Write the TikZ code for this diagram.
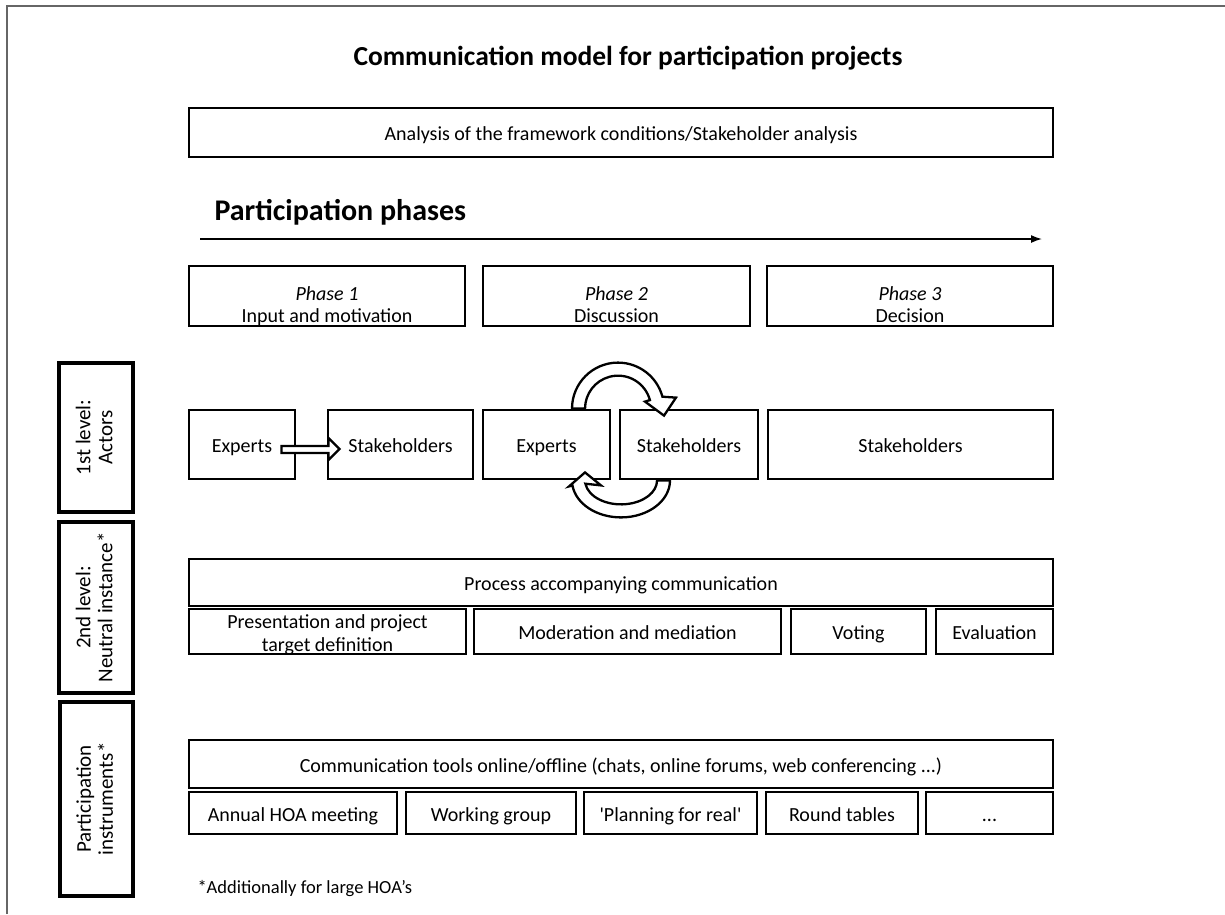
\documentclass[tikz,border=0pt]{standalone}
\usepackage{fontspec}
\setmainfont{Carlito}
\usetikzlibrary{arrows.meta}
\usetikzlibrary{calc}

\begin{document}
\begin{tikzpicture}[x=1pt,y=-1pt,
    plainbox/.style={draw,line width=2.8pt,fill=white,inner sep=0pt,
      font=\fontsize{20}{23}\selectfont,align=center,
      execute at begin node=\rule{0pt}{20pt},execute at end node=\rule[-4pt]{0pt}{4pt}},
    boxtext/.style={inner sep=0pt,font=\fontsize{20}{22}\selectfont,align=center},
    levelbox/.style={plainbox,line width=3.5pt,rotate=90,font=\fontsize{21}{22}\selectfont},
    hollowarrow/.style={draw,line width=2.3pt,fill=white,line join=miter},
    titletext/.style={font=\fontsize{27.5}{32}\selectfont\bfseries}]
    \useasboundingbox (0,0) rectangle (1225,914);
    \draw[black!60,line width=1.5pt] (7,914) -- (7,6) -- (1225,6);
    %
    \node[titletext] (title) at (628,58) {Communication model for participation projects};
    \node[plainbox,minimum width=864pt,minimum height=49pt] (ana) at (621,132.5)
      {Analysis of the framework conditions/Stakeholder analysis};
    \node[titletext,font=\fontsize{30}{34}\selectfont\bfseries,anchor=west] (phases) at (211,212) {Participation phases};
    \coordinate (arrS) at (200,239);
    \coordinate (arrE) at (1042,239);
    \draw[line width=1.5pt,-{Latex[length=11pt,width=8pt]}] (arrS) -- (arrE);
    %
    \node[plainbox,minimum width=276pt,minimum height=60pt] (ph1) at (327,296) {};
    \node[plainbox,minimum width=267pt,minimum height=60pt] (ph2) at (616.5,296) {};
    \node[plainbox,minimum width=286pt,minimum height=60pt] (ph3) at (910,296) {};
    \node[boxtext] (ph1t) at ($(ph1)+(0,11)$) {\strut\textit{Phase 1}\\\strut Input and motivation};
    \node[boxtext] (ph2t) at ($(ph2)+(0,11)$) {\strut\textit{Phase 2}\\\strut Discussion};
    \node[boxtext] (ph3t) at ($(ph3)+(0,11)$) {\strut\textit{Phase 3}\\\strut Decision};
    %
    \node[plainbox,minimum width=106pt,minimum height=69pt] (ex1) at (242,444.5) {Experts};
    \node[plainbox,minimum width=145pt,minimum height=69pt] (st1) at (400.5,444.5) {Stakeholders};
    \node[plainbox,minimum width=127pt,minimum height=69pt] (ex2) at (546.5,444.5) {Experts};
    \node[plainbox,minimum width=138pt,minimum height=69pt] (st2) at (689,444.5) {Stakeholders};
    \node[plainbox,minimum width=285pt,minimum height=69pt] (st3) at (910.5,444.5) {Stakeholders};
    %
    \draw[hollowarrow,shift={(ex1.east)}] (-15,1.5) -- (32,1.5) -- (32,-6.5) -- (43,4.5)
      -- (32,15.5) -- (32,8.5) -- (-15,8.5) -- cycle;
    \coordinate (topc) at ($(ex2.north east)!0.5!(st2.north west)$);
    \coordinate (botc) at ($(ex2.south east)!0.5!(st2.south west)$);
    \draw[hollowarrow,shift={(topc)}] (-43,0) arc[start angle=180,end angle=345,radius=46]
      -- (61,-11) -- (49,7) -- (30,-7) -- (34.9,-8.5)
      arc[start angle=345,end angle=180,radius=33] -- cycle;
    \draw[hollowarrow,shift={(botc)}] (55,0) arc[start angle=0,end angle=172,x radius=49,y radius=37]
      -- (-46,6) -- (-30,-8) -- (-14,5) -- (-29.6,3.3)
      arc[start angle=172,end angle=0,x radius=36,y radius=24] -- cycle;
    %
    \node[plainbox,minimum width=864pt,minimum height=47pt] (proc) at (621,582.5) {Process accompanying communication};
    \node[plainbox,minimum width=277pt,minimum height=45pt] (pres) at (327.5,631.5) {};
    \node[boxtext,font=\fontsize{20}{23}\selectfont] (prest) at ($(pres)+(0,3)$) {Presentation and project\\target definition};
    \node[plainbox,minimum width=307pt,minimum height=45pt] (mod) at (627.5,631.5) {Moderation and mediation};
    \node[plainbox,minimum width=135pt,minimum height=45pt] (vot) at (858.5,631.5) {Voting};
    \node[plainbox,minimum width=117pt,minimum height=45pt] (eva) at (994.5,631.5) {Evaluation};
    %
    \node[plainbox,minimum width=864pt,minimum height=48pt] (tools) at (621,764)
      {Communication tools online/offline (chats, online forums, web conferencing ...)};
    \node[plainbox,minimum width=208pt,minimum height=42pt] (ins1) at (293,813) {Annual HOA meeting};
    \node[plainbox,minimum width=170pt,minimum height=42pt] (ins2) at (491,813) {Working group};
    \node[plainbox,minimum width=173pt,minimum height=42pt] (ins3) at (670.5,813) {\textquotesingle Planning for real\textquotesingle};
    \node[plainbox,minimum width=152pt,minimum height=42pt] (ins4) at (842,813) {Round tables};
    \node[plainbox,minimum width=127pt,minimum height=42pt] (ins5) at (989.5,813) {...};
    %
    \node[levelbox,minimum width=149pt,minimum height=74pt] (lev1) at (96,437.5) {1st level:\\Actors};
    \node[levelbox,minimum width=171pt,minimum height=74pt] (lev2) at (96,607.5) {2nd level:\\Neutral instance*};
    \node[levelbox,minimum width=194pt,minimum height=73pt] (lev3) at (96.5,799) {Participation\\instruments*};
    %
    \node[anchor=west,font=\fontsize{18.5}{22}\selectfont] (note) at (194,889) {*Additionally for large HOA’s};
\end{tikzpicture}
\end{document}
